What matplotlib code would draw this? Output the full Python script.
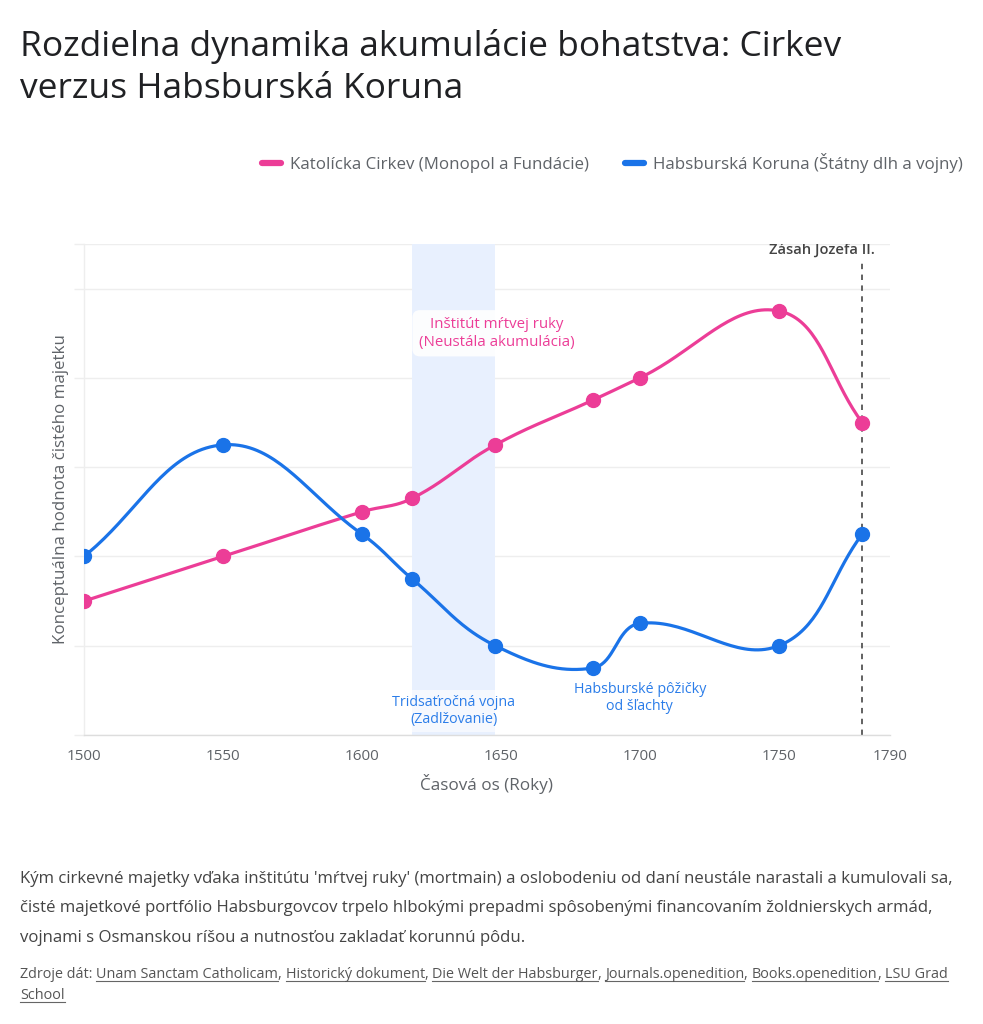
import numpy as np
import matplotlib.pyplot as plt
from matplotlib.lines import Line2D

plt.rcParams['font.family'] = ['Open Sans', 'DejaVu Sans']

# data
years = [1500, 1550, 1600, 1618, 1648, 1683, 1700, 1750, 1780]
church = [30, 40, 50, 53, 65, 75, 80, 95, 70]
habsburg = [40, 65, 45, 35, 20, 15, 25, 20, 45]
x_ticks = [1500, 1550, 1600, 1650, 1700, 1750, 1790]
series_names = ["Katolícka Cirkev (Monopol a Fundácie)",
                "Habsburská Koruna (Štátny dlh a vojny)"]
war_span = (1618, 1648)
joseph_year = 1780

title = "Rozdielna dynamika akumulácie bohatstva: Cirkev\nverzus Habsburská Koruna"
note_lines = [
    "Kým cirkevné majetky vďaka inštitútu 'mŕtvej ruky' (mortmain) a oslobodeniu od daní neustále narastali a kumulovali sa,",
    "čisté majetkové portfólio Habsburgovcov trpelo hlbokými prepadmi spôsobenými financovaním žoldnierskych armád,",
    "vojnami s Osmanskou ríšou a nutnosťou zakladať korunnú pôdu.",
]
sources_line1 = [("Zdroje dát: ", False), ("Unam Sanctam Catholicam", True), (", ", False),
                 ("Historický dokument", True), (", ", False), ("Die Welt der Habsburger", True),
                 (", ", False), ("Journals.openedition", True), (", ", False),
                 ("Books.openedition", True), (", ", False), ("LSU Grad", True)]
sources_line2 = [("School", True)]

PINK = '#EC3D97'
BLUE = '#1A73E8'
GREY = '#5f6368'

W, H = 983, 1024
fig = plt.figure(figsize=(W / 100, H / 100), dpi=100)
ax_l, ax_r, ax_t, ax_b = 84, 890, 244, 735
ax = fig.add_axes([ax_l / W, 1 - ax_b / H, (ax_r - ax_l) / W, (ax_b - ax_t) / H])
ax.set_xlim(1500, 1790)
ax.set_ylim(0, 110)

px_x = (ax_r - ax_l) / 290.0
px_y = (ax_b - ax_t) / 110.0


# chart.js style spline (tension 0.4), computed in pixel space
def spline(xs, ys, t=0.4, n=40):
    P = np.column_stack([np.array(xs) * px_x, np.array(ys) * px_y]).astype(float)
    m = len(P)
    cin = np.zeros_like(P)
    cout = np.zeros_like(P)
    for i in range(m):
        p0 = P[max(i - 1, 0)]
        p1 = P[i]
        p2 = P[min(i + 1, m - 1)]
        d01 = np.hypot(*(p1 - p0))
        d12 = np.hypot(*(p2 - p1))
        s01 = d01 / (d01 + d12)
        s12 = d12 / (d01 + d12)
        cin[i] = p1 - t * s01 * (p2 - p0)
        cout[i] = p1 + t * s12 * (p2 - p0)
    out = []
    tt = np.linspace(0, 1, n)[:, None]
    for i in range(m - 1):
        a, b, c, d = P[i], cout[i], cin[i + 1], P[i + 1]
        seg = (1 - tt) ** 3 * a + 3 * (1 - tt) ** 2 * tt * b + 3 * (1 - tt) * tt ** 2 * c + tt ** 3 * d
        out.append(seg)
    out = np.vstack(out)
    return out[:, 0] / px_x, out[:, 1] / px_y


# grid / axes styling
for s in ['top', 'right']:
    ax.spines[s].set_visible(False)
ax.spines['left'].set_color('#eeeeee')
ax.spines['bottom'].set_color('#dddddd')
ax.spines['left'].set_linewidth(1)
ax.spines['bottom'].set_linewidth(1)
ax.set_yticks([0, 20, 40, 60, 80, 100, 110])
ax.set_yticklabels([])
ax.tick_params(axis='y', length=7, color='#eeeeee', width=1)
ax.grid(axis='y', color='#eeeeee', linewidth=1)
ax.set_axisbelow(True)
ax.set_xticks(x_ticks)
ax.set_xticklabels([str(v) for v in x_ticks], fontsize=11, color=GREY)
ax.tick_params(axis='x', length=0, pad=10)

ax.set_xlabel("Časová os (Roky)", fontsize=12.3, color=GREY, labelpad=7)
ax.set_ylabel("Konceptuálna hodnota čistého majetku", fontsize=12.2, color=GREY, labelpad=0)

# war band
ax.axvspan(war_span[0], war_span[1], ymin=0, ymax=1, color='#E8F0FE', zorder=1, lw=0)

# joseph II line
ax.axvline(joseph_year, ymin=0, ymax=105.7 / 110, color='#555555', lw=1.3, ls=(0, (3, 3)), zorder=2)
ax.text(1765.5, 107.8, "Zásah Jozefa II.", ha='center', va='baseline', fontsize=10.6,
        fontweight='semibold', color='#444444', clip_on=True)

# series
for vals, col in [(church, PINK), (habsburg, BLUE)]:
    sx, sy = spline(years, vals)
    ax.plot(sx, sy, color=col, lw=2.3, zorder=3, solid_capstyle='round')
    ax.plot(years, vals, 'o', color=col, ms=10, zorder=4)

# annotations
ax.text(1648.6, 90, "Inštitút mŕtvej ruky\n(Neustála akumulácia)", ha='center', va='center',
        fontsize=10.8, color=PINK, linespacing=1.25, zorder=5,
        bbox=dict(boxstyle='round,pad=0.45,rounding_size=0.5', fc='white', ec='none', alpha=0.9))
ax.text(1633, 5.3, "Tridsaťročná vojna\n(Zadlžovanie)", ha='center', va='center',
        fontsize=10.3, color='#2b7de9', linespacing=1.2, zorder=5,
        bbox=dict(boxstyle='square,pad=0.35', fc='white', ec='none', alpha=0.6))
ax.text(1700, 8.3, "Habsburské pôžičky\nod šľachty", ha='center', va='center',
        fontsize=10.3, color='#2b7de9', linespacing=1.2, zorder=5)

# legend
handles = [Line2D([0], [0], color=PINK, lw=4.5, solid_capstyle='round'),
           Line2D([0], [0], color=BLUE, lw=4.5, solid_capstyle='round')]
leg = fig.legend(handles, series_names, loc='center right', bbox_to_anchor=(978 / W, 1 - 163 / H),
                 ncol=2, frameon=False, fontsize=12.2, handlelength=1.1, handletextpad=0.55,
                 columnspacing=2.1, labelcolor=GREY)

# title
fig.text(20 / W, 1 - 29 / H, title, ha='left', va='top', fontsize=25.5, color='#202124', linespacing=1.3)

# footer note
for i, line in enumerate(note_lines):
    fig.text(20 / W, 1 - (879 + i * 29.5) / H, line, ha='left', va='center', fontsize=12.1, color='#444444')

# sources with underlined links
renderer = fig.canvas.get_renderer()


def draw_pieces(pieces, y_px):
    x_px = 20
    for txt, link in pieces:
        t = fig.text(x_px / W, 1 - y_px / H, txt, ha='left', va='baseline', fontsize=10.35, color='#555555')
        bb = t.get_window_extent(renderer)
        if link:
            uy = 1 - (y_px + 2.5) / H
            fig.add_artist(Line2D([x_px / W, (x_px + bb.width) / W], [uy, uy], color='#666666', lw=0.8))
        x_px += bb.width


draw_pieces(sources_line1, 978)
draw_pieces(sources_line2, 999)

fig.savefig('out.png', dpi=100, facecolor='white')
